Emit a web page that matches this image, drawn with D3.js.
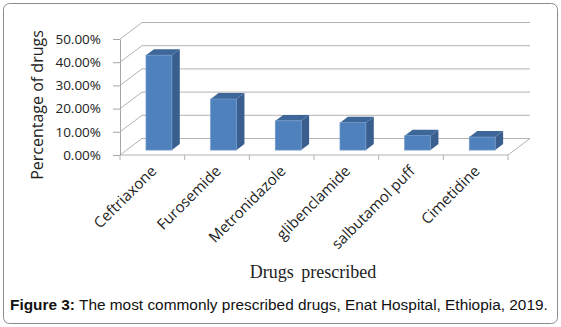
<!DOCTYPE html>
<html>
<head>
<meta charset="utf-8">
<script src="https://cdnjs.cloudflare.com/ajax/libs/d3/7.8.5/d3.min.js"></script>
<style>
  body { margin: 0; background: #fff; }
  svg { display: block; }
</style>
</head>
<body>
<div id="chart"></div>
<script>
// data
const drugs = ["Ceftriaxone", "Furosemide", "Metronidazole", "glibenclamide", "salbutamol puff", "Cimetidine"];
const shares = [0.409, 0.220, 0.126, 0.118, 0.062, 0.056];
const yTicks = [0, 0.1, 0.2, 0.3, 0.4, 0.5];

const W = 561, H = 327;
const svg = d3.select("#chart").append("svg")
    .attr("width", W)
    .attr("height", H);

// outer frame
svg.append("rect")
    .attr("x", 3.5).attr("y", 3.5)
    .attr("width", W - 7).attr("height", H - 7)
    .attr("rx", 6)
    .attr("fill", "#fff")
    .attr("stroke", "#8c8c8c");

// 3d depth offset of the back wall
const depthX = 22, depthY = 16.5;

const x = d3.scaleBand()
    .domain(drugs)
    .range([120, 508])
    .padding(0);

const y = d3.scaleLinear()
    .domain([0, 0.5])
    .range([155, 39]);

const grid = svg.append("g").attr("stroke", "#b3b3b3").attr("fill", "none");

// back wall gridlines + side wall diagonals
yTicks.forEach(t => {
    grid.append("line")
        .attr("x1", 120 + depthX).attr("y1", y(t) - depthY)
        .attr("x2", 508 + depthX).attr("y2", y(t) - depthY);
    grid.append("line")
        .attr("x1", 120).attr("y1", y(t))
        .attr("x2", 120 + depthX).attr("y2", y(t) - depthY);
});

// floor front and right edges
grid.append("line")
    .attr("x1", 120).attr("y1", y(0))
    .attr("x2", 508).attr("y2", y(0));
grid.append("line")
    .attr("x1", 508).attr("y1", y(0))
    .attr("x2", 508 + depthX).attr("y2", y(0) - depthY);

// category boundary ticks
const bounds = drugs.map(d => x(d)).concat([x.range()[1]]);
grid.selectAll(".ctick")
    .data(bounds)
    .enter()
    .append("line")
    .attr("x1", d => d).attr("x2", d => d)
    .attr("y1", y(0)).attr("y2", y(0) + 5);

// y axis
const yAxis = d3.axisLeft(y)
    .tickValues(yTicks)
    .tickFormat(d3.format(".2%"))
    .tickSize(7)
    .tickSizeOuter(0);

const ya = svg.append("g")
    .attr("transform", "translate(120,0)")
    .call(yAxis);
ya.selectAll("path, line").attr("stroke", "#a6a6a6");
ya.selectAll("text")
    .attr("font-family", "Open Sans")
    .attr("font-size", 13.5)
    .attr("fill", "#222")
    .attr("x", -19);

// bars
const d0 = 0.3, dd = 0.36;
const bw = x.bandwidth() * 0.4;
const sx = depthX * dd, sy = depthY * dd;

const bars = svg.selectAll(".bar")
    .data(drugs.map((d, i) => ({name: d, v: shares[i]})))
    .enter()
    .append("g")
    .attr("class", "bar")
    .attr("transform", `translate(${depthX * d0}, ${-depthY * d0})`);

bars.append("path")
    .attr("fill", "#3a5f8f")
    .attr("d", d => {
        const x1 = x(d.name) + x.bandwidth() / 2 + bw / 2;
        return `M${x1},${y(d.v)} L${x1 + sx},${y(d.v) - sy} L${x1 + sx},${y(0) - sy} L${x1},${y(0)} Z`;
    });

bars.append("path")
    .attr("fill", "#3d6699")
    .attr("d", d => {
        const x0 = x(d.name) + x.bandwidth() / 2 - bw / 2;
        return `M${x0},${y(d.v)} L${x0 + sx},${y(d.v) - sy} L${x0 + bw + sx},${y(d.v) - sy} L${x0 + bw},${y(d.v)} Z`;
    });

bars.append("rect")
    .attr("x", d => x(d.name) + x.bandwidth() / 2 - bw / 2)
    .attr("y", d => y(d.v))
    .attr("width", bw)
    .attr("height", d => y(0) - y(d.v))
    .attr("fill", "#4f81bd")
    .attr("stroke", "#6f98ca")
    .attr("stroke-width", 0.8);

// category labels
svg.append("g")
    .selectAll("text")
    .data(drugs)
    .enter()
    .append("text")
    .attr("transform", d => `translate(${x(d) + x.bandwidth() / 2 + 5}, 172) rotate(-45)`)
    .attr("text-anchor", "end")
    .attr("font-family", "Open Sans")
    .attr("font-size", 15)
    .attr("fill", "#222")
    .text(d => d);

// axis titles
svg.append("text")
    .attr("transform", "translate(43,105) rotate(-90)")
    .attr("text-anchor", "middle")
    .attr("font-family", "Open Sans")
    .attr("font-size", 16)
    .attr("fill", "#222")
    .text("Percentage of drugs");

svg.append("text")
    .attr("x", 313).attr("y", 278)
    .attr("text-anchor", "middle")
    .attr("font-family", "Liberation Serif")
    .attr("font-size", 18)
    .attr("fill", "#222")
    .attr("word-spacing", 3)
    .text("Drugs prescribed");

// caption
const cap = svg.append("text")
    .attr("x", 10).attr("y", 310)
    .attr("font-family", "Liberation Sans")
    .attr("font-size", 15.4)
    .attr("fill", "#111");
cap.append("tspan").attr("font-weight", "bold").text("Figure 3:");
cap.append("tspan").text(" The most commonly prescribed drugs, Enat Hospital, Ethiopia, 2019.");
</script>
</body>
</html>
